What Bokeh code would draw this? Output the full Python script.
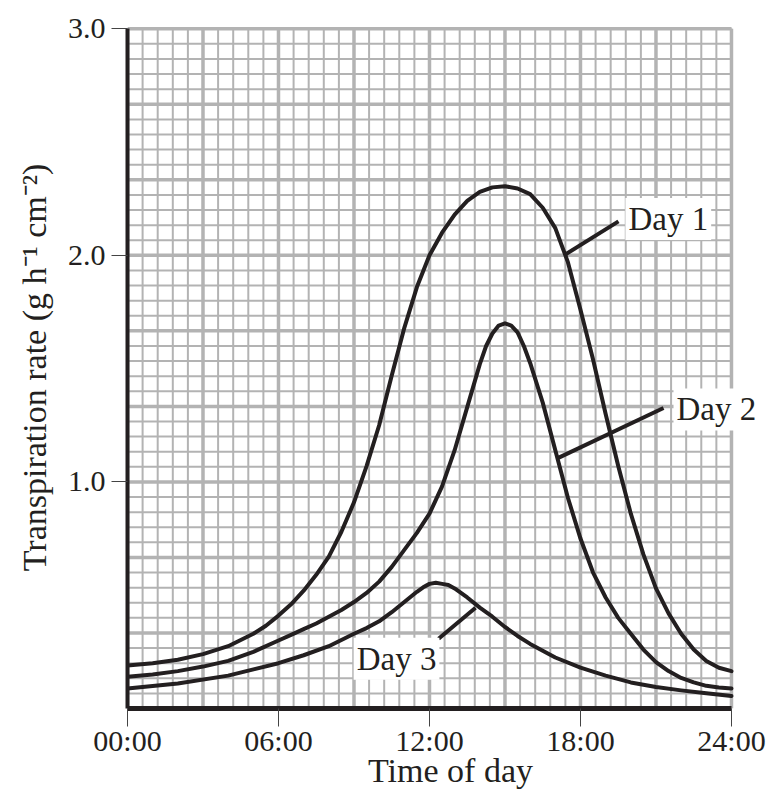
from bokeh.plotting import figure
from bokeh.models import FixedTicker, Label, Range1d
from bokeh.embed import file_html
from bokeh.resources import INLINE

# ---- data ----
day1_hours = [0, 1, 2, 3, 4, 5, 5.5, 6, 6.5, 7, 7.5, 8, 8.5, 9, 9.5, 10, 10.5, 11, 11.5, 12,
              12.5, 13, 13.5, 14, 14.5, 15, 15.5, 16, 16.5, 17, 17.5, 18, 18.5, 19, 19.5, 20,
              20.5, 21, 21.5, 22, 22.5, 23, 23.5, 24]
day1_rate = [0.19, 0.20, 0.215, 0.24, 0.275, 0.33, 0.365, 0.41, 0.46, 0.52, 0.59, 0.67, 0.78,
             0.91, 1.07, 1.25, 1.47, 1.68, 1.86, 2.00, 2.10, 2.18, 2.24, 2.28, 2.30, 2.305, 2.295,
             2.27, 2.21, 2.12, 1.97, 1.76, 1.54, 1.30, 1.07, 0.86, 0.68, 0.53, 0.42, 0.33, 0.26,
             0.21, 0.18, 0.165]

day2_hours = [0, 1, 2, 3, 4, 5, 6, 6.5, 7, 7.5, 8, 8.5, 9, 9.5, 10, 10.5, 11, 11.5, 12, 12.5,
              13, 13.5, 14, 14.25, 14.5, 14.75, 15, 15.25, 15.5, 15.75, 16, 16.5, 17, 17.5, 18,
              18.5, 19, 19.5, 20, 20.5, 21, 21.5, 22, 22.5, 23, 23.5, 24]
day2_rate = [0.14, 0.15, 0.165, 0.185, 0.21, 0.25, 0.30, 0.325, 0.35, 0.375, 0.405, 0.435, 0.47,
             0.51, 0.56, 0.625, 0.70, 0.775, 0.86, 0.98, 1.14, 1.33, 1.52, 1.60, 1.655, 1.69,
             1.70, 1.69, 1.66, 1.60, 1.525, 1.35, 1.14, 0.93, 0.75, 0.60, 0.49, 0.40, 0.33, 0.26,
             0.205, 0.165, 0.135, 0.115, 0.10, 0.093, 0.088]

day3_hours = [0, 2, 4, 6, 7, 8, 9, 9.5, 10, 10.5, 11, 11.5, 11.75, 12, 12.25, 12.5, 12.75, 13,
              13.5, 14, 14.5, 15, 15.5, 16, 17, 18, 19, 20, 21, 22, 23, 24]
day3_rate = [0.088, 0.11, 0.145, 0.20, 0.235, 0.275, 0.33, 0.355, 0.385, 0.425, 0.47, 0.515,
             0.535, 0.55, 0.555, 0.55, 0.545, 0.53, 0.49, 0.445, 0.405, 0.36, 0.32, 0.285, 0.225,
             0.18, 0.145, 0.115, 0.095, 0.08, 0.067, 0.055]

x_tick_values = [0, 6, 12, 18, 24]
x_tick_labels = ["00:00", "06:00", "12:00", "18:00", "24:00"]
y_tick_values = [1, 2, 3]
y_tick_labels = ["1.0", "2.0", "3.0"]

# label annotations: text, label centre, leader start (on curve), leader end
label_texts = ["Day 1", "Day 2", "Day 3"]
label_x = [21.49, 23.40, 10.69]
label_y = [2.16, 1.32, 0.22]
leader_x0 = [17.40, 17.12, 13.83]
leader_y0 = [2.004, 1.106, 0.445]
leader_x1 = [19.51, 21.30, 12.36]
leader_y1 = [2.15, 1.326, 0.308]

FONT = "Liberation Serif"
GRID = "#b3b3b3"
INK = "#231f20"
X_MAX, Y_MAX = 24, 3.0

p = figure(width=773, height=811, x_range=Range1d(0, 25.67), y_range=Range1d(0, 3.01),
           output_backend="svg", toolbar_location=None,
           min_border_left=127, min_border_right=0, min_border_top=26, min_border_bottom=103)
p.outline_line_color = None
p.background_fill_color = "white"
p.border_fill_color = "white"
p.xgrid.visible = False
p.ygrid.visible = False

# graph-paper grid (minor every 0.6 h / 1/15 unit, major every 3 h / 1/3 unit)
minor_x = [i * 0.6 for i in range(41)]
major_x = [i * 3 for i in range(9)]
minor_y = [i / 15 for i in range(46)]
major_y = [i / 3 for i in range(10)]
for xs, ys, w in ((minor_x, minor_y, 2), (major_x, major_y, 3.5)):
    p.segment(x0=xs, y0=[0] * len(xs), x1=xs, y1=[Y_MAX] * len(xs), line_color=GRID, line_width=w)
    p.segment(x0=[0] * len(ys), y0=ys, x1=[X_MAX] * len(ys), y1=ys, line_color=GRID, line_width=w)

# axes
p.xaxis.ticker = FixedTicker(ticks=x_tick_values)
p.xaxis.major_label_overrides = {v: s for v, s in zip(x_tick_values, x_tick_labels)}
p.xaxis.bounds = (0, X_MAX)
p.yaxis.ticker = FixedTicker(ticks=y_tick_values)
p.yaxis.major_label_overrides = {v: s for v, s in zip(y_tick_values, y_tick_labels)}
p.yaxis.bounds = (0, Y_MAX)

p.xaxis.axis_label = "Time of day"
p.yaxis.axis_label = "Transpiration rate (g h\u207b\u00b9 cm\u207b\u00b2)"

for ax in (p.xaxis, p.yaxis):
    ax.axis_line_color = INK
    ax.major_tick_line_color = "#444444"
    ax.major_tick_line_width = 1
    ax.major_tick_in = 0
    ax.minor_tick_line_color = None
    ax.major_label_text_font = FONT
    ax.major_label_text_font_size = "30px"
    ax.major_label_text_color = INK
    ax.axis_label_text_font = FONT
    ax.axis_label_text_font_size = "34px"
    ax.axis_label_text_font_style = "normal"
    ax.axis_label_text_color = INK

p.xaxis.axis_line_width = 5
p.xaxis.major_tick_out = 18
p.xaxis.major_label_standoff = -3
p.xaxis.axis_label_standoff = -8
p.yaxis.axis_line_width = 4
p.yaxis.major_tick_out = 16
p.yaxis.major_label_standoff = 6
p.yaxis.axis_label_standoff = 12

# curves
for hx, ry in ((day1_hours, day1_rate), (day2_hours, day2_rate), (day3_hours, day3_rate)):
    p.line(hx, ry, line_color=INK, line_width=4, line_join="round", line_cap="round")

# leader lines
p.segment(x0=leader_x0, y0=leader_y0, x1=leader_x1, y1=leader_y1, line_color=INK, line_width=4)

# labels
for t, lx, ly in zip(label_texts, label_x, label_y):
    p.add_layout(Label(x=lx, y=ly, text=t, text_font=FONT, text_font_size="33px",
                       text_color=INK, text_align="center", text_baseline="middle",
                       background_fill_color="white", padding=3))

open("out.html", "w").write(file_html(p, INLINE))
